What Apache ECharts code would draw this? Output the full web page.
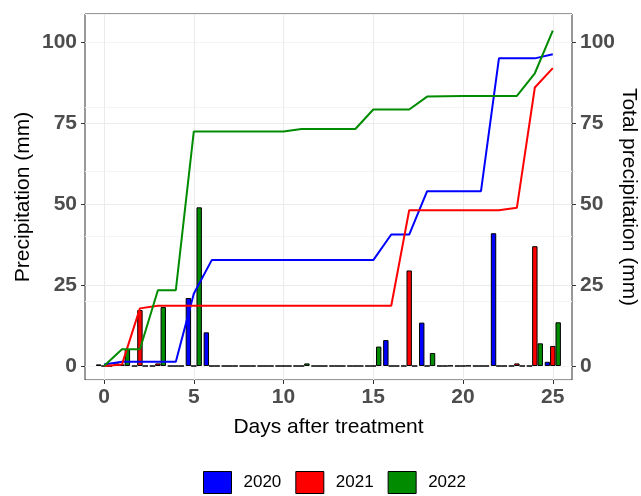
<!DOCTYPE html>
<html><head><meta charset="utf-8">
<script src="https://cdn.jsdelivr.net/npm/echarts@6/dist/echarts.min.js"></script>
<style>html,body{margin:0;padding:0;background:#fff}#c{width:641px;height:496px}</style>
</head><body><div id="c"></div>
<script>
// ---- data ----
const days = [0,1,2,3,4,5,6,7,8,9,10,11,12,13,14,15,16,17,18,19,20,21,22,23,24,25];
const years = ['2020','2021','2022'];
const colors = ['#0000FF','#FF0000','#008B00'];
// daily precipitation (mm)
const rain2020 = [0.5,0.8,0,0,0,21,10.4,0,0,0,0,0,0,0,0,0,8,0,13.4,0,0,0,41,0,0,1.3];
const rain2021 = [0,0.5,17.3,0.8,0,0,0,0,0,0,0,0,0,0,0,0,0,29.5,0,0,0,0,0,0.8,37,6.2];
const rain2022 = [0,5.2,0,18.2,0,49,0,0,0,0,0,0.8,0,0,0,6,0,0,4,0.1,0.1,0,0,0,7,13.5];
// cumulative precipitation (mm)
const total2020 = [0.5,1.3,1.3,1.3,1.3,22.3,32.7,32.7,32.7,32.7,32.7,32.7,32.7,32.7,32.7,32.7,40.6,40.6,54,54,54,54,95,95,95,96.3];
const total2021 = [0,0.5,17.8,18.6,18.6,18.6,18.6,18.6,18.6,18.6,18.6,18.6,18.6,18.6,18.6,18.6,18.6,48.1,48.1,48.1,48.1,48.1,48.1,48.9,86,92];
const total2022 = [0,5.2,5.2,23.4,23.4,72.4,72.4,72.4,72.4,72.4,72.4,73.2,73.2,73.2,73.2,79.2,79.2,79.2,83.2,83.3,83.4,83.4,83.4,83.4,90.4,103.6];
const xTicks = [0,5,10,15,20,25];
const yTicks = [0,25,50,75,100];
const yMinor = [12.5,37.5,62.5,87.5];

const rains = [rain2020, rain2021, rain2022];
const totals = [total2020, total2021, total2022];

const FONT = "'Liberation Sans', Arial, sans-serif";
const tickLabel = {fontFamily: FONT, fontSize: 21, fontWeight: 'bold', color: '#4D4D4D'};
const nameStyle = {fontFamily: FONT, fontSize: 21, color: '#000'};

const series = [];
years.forEach((y, k) => {
  series.push({
    name: y, type: 'bar', xAxisIndex: 0, yAxisIndex: 0,
    barWidth: 5.4, barGap: '0%',
    itemStyle: {color: colors[k], borderColor: '#000', borderWidth: 1},
    data: days.map((d, i) => [d, rains[k][i]]),
    z: 2
  });
});
years.forEach((y, k) => {
  series.push({
    name: y, type: 'line', xAxisIndex: 0, yAxisIndex: 1,
    showSymbol: false, symbol: 'none',
    lineStyle: {color: colors[k], width: 2},
    itemStyle: {color: colors[k]},
    data: days.map((d, i) => [d, totals[k][i]]),
    z: 5
  });
});

const chart = echarts.init(document.getElementById('c'));
chart.setOption({
  animation: false,
  backgroundColor: '#fff',
  grid: {left: 85, right: 69, top: 14, bottom: 116, outerBoundsMode: 'none', containLabel: false,
         show: true, borderColor: '#333333', borderWidth: 1, backgroundColor: 'transparent'},
  legend: {
    data: years, left: 198, top: 466, itemWidth: 28, itemHeight: 22, itemGap: 14,
    icon: 'rect',
    itemStyle: {borderColor: '#000', borderWidth: 1},
    textStyle: {fontFamily: FONT, fontSize: 17, color: '#000', padding: [0,0,0,7]}
  },
  xAxis: [{
    type: 'value', min: -1.06, max: 26.07,
    name: 'Days after treatment', nameLocation: 'middle', nameGap: 37, nameMoveOverlap: false, nameTextStyle: nameStyle,
    axisLine: {show: false, onZero: false},
    axisTick: {show: true, length: 4, customValues: xTicks, lineStyle: {color: '#333333'}},
    axisLabel: Object.assign({customValues: xTicks, margin: 7}, tickLabel),
    splitLine: {show: true, lineStyle: {color: '#EBEBEB', width: 1}}
  }],
  yAxis: [{
    type: 'value', min: -4.32, max: 108.7, position: 'left',
    name: 'Precipitation (mm)', nameLocation: 'middle', nameGap: 51, nameRotate: 90, nameMoveOverlap: false, nameTextStyle: nameStyle,
    axisLine: {show: false, onZero: false},
    axisTick: {show: true, length: 4, customValues: yTicks, lineStyle: {color: '#333333'}},
    axisLabel: Object.assign({customValues: yTicks, margin: 8}, tickLabel),
    splitLine: {show: true, lineStyle: {color: '#EBEBEB', width: 1}}
  }, {
    type: 'value', min: -4.32, max: 108.7, position: 'right',
    name: 'Total precipitation (mm)', nameLocation: 'middle', nameGap: 46, nameRotate: -90, nameMoveOverlap: false, nameTextStyle: nameStyle,
    axisLine: {show: false, onZero: false},
    axisTick: {show: true, length: 4, customValues: yTicks, lineStyle: {color: '#333333'}},
    axisLabel: Object.assign({customValues: yTicks, margin: 8}, tickLabel),
    splitLine: {show: false}
  }, {
    type: 'value', min: -4.32, max: 108.7, position: 'left',
    axisLine: {show: false, onZero: false}, axisTick: {show: false},
    axisLabel: {show: false, customValues: yMinor},
    splitLine: {show: true, lineStyle: {color: '#F4F4F4', width: 1}}
  }],
  series: series
});
</script>
</body></html>
